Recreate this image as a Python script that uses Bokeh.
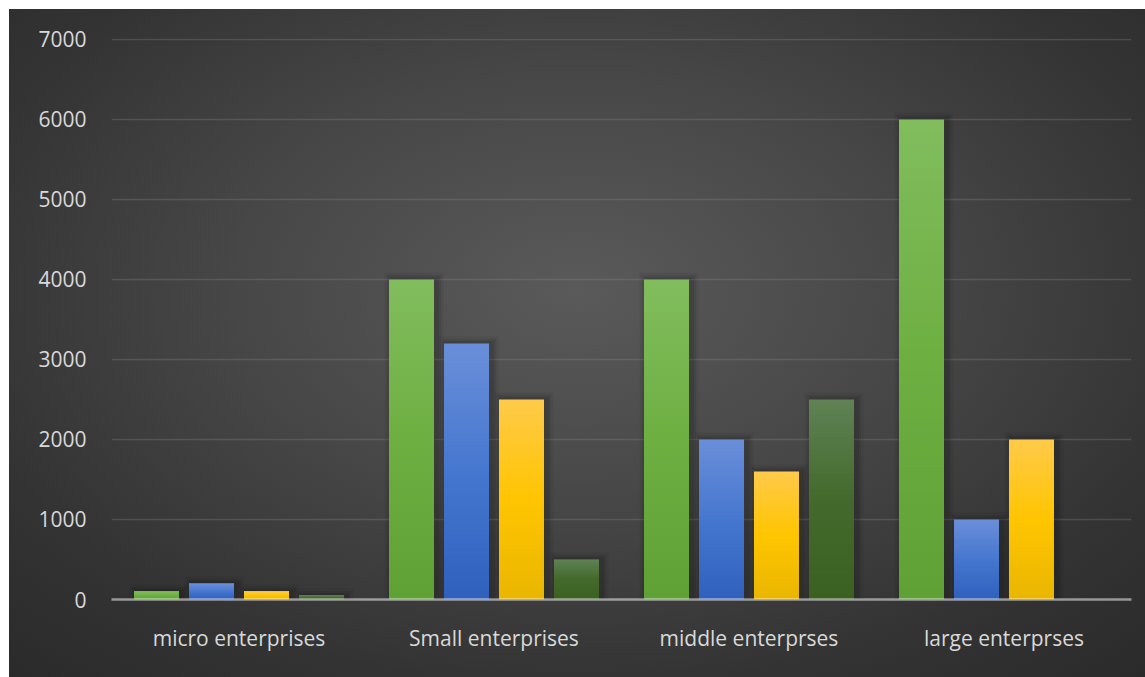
import numpy as np
from bokeh.plotting import figure
from bokeh.models import ColumnDataSource, FactorRange, FixedTicker
from bokeh.transform import dodge
from bokeh.embed import file_html
from bokeh.resources import INLINE

# ---- data ----
categories = ["micro enterprises", "Small enterprises", "middle enterprses", "large enterprses"]
series_a = [100, 4000, 4000, 6000]
series_b = [200, 3200, 2000, 1000]
series_c = [100, 2500, 1600, 2000]
series_d = [50, 500, 2500, 0]
y_ticks = [0, 1000, 2000, 3000, 4000, 5000, 6000, 7000]

# gradient stops (bottom, middle, top) per series
grad_a = ["#5fa135", "#6daf41", "#82bd5e"]
grad_b = ["#2f61bd", "#4677cf", "#6a8fd9"]
grad_c = ["#e9b600", "#ffc500", "#ffca4a"]
grad_d = ["#3b6122", "#436a2c", "#608255"]

series = [series_a, series_b, series_c, series_d]
grads = [grad_a, grad_b, grad_c, grad_d]
offsets = [-0.3235, -0.1078, 0.1078, 0.3235]
bar_w = 0.1765


def hex2rgb(h):
    h = h.lstrip("#")
    return np.array([int(h[i:i + 2], 16) for i in (0, 2, 4)], dtype=float)


def interp(stops, t):
    b, m, tp = [hex2rgb(s) for s in stops]
    if t < 0.5:
        c = b + (m - b) * (t / 0.5)
    else:
        c = m + (tp - m) * ((t - 0.5) / 0.5)
    return "#%02x%02x%02x" % tuple(int(round(v)) for v in c)


p = figure(
    width=1136, height=668,
    x_range=FactorRange(factors=categories, range_padding=0),
    y_range=(0, 7012),
    output_backend="svg", toolbar_location=None,
    min_border_left=102, min_border_right=14, min_border_top=29, min_border_bottom=78,
)
p.margin = (9, 0, 0, 9)
p.styles = {
    "background-image": "radial-gradient(ellipse 75% 80% at 50% 42%, #5a5a5a 0%, #474747 40%, #333333 75%, #2a2a2a 100%)",
}
p.background_fill_color = None
p.border_fill_color = None
p.outline_line_color = None

N = 40
for vals, stops, off in zip(series, grads, offsets):
    # soft shadow
    for k, (dw, a) in enumerate([(14, 0.05), (9, 0.07), (5, 0.09)]):
        sh = ColumnDataSource(dict(cat=categories, top=[v + (dw / 2) * 12.5 if v > 0 else 0 for v in vals]))
        p.vbar(x=dodge("cat", off + 2.5 / 255, range=p.x_range), top="top", bottom=0,
               width=bar_w + dw / 255, source=sh, fill_color="black", fill_alpha=a, line_color=None)
    cats, bots, tops, cols = [], [], [], []
    for c, v in zip(categories, vals):
        if v <= 0:
            continue
        for i in range(N):
            cats.append(c)
            bots.append(v * i / N)
            tops.append(min(v, v * (i + 1) / N + 8))
            cols.append(interp(stops, (i + 0.5) / N))
    src = ColumnDataSource(dict(cat=cats, bottom=bots, top=tops, color=cols))
    p.vbar(x=dodge("cat", off, range=p.x_range), top="top", bottom="bottom", width=bar_w,
           source=src, fill_color="color", line_color=None)

# grid
p.xgrid.grid_line_color = None
p.ygrid.grid_line_color = "#8a8a8a"
p.ygrid.grid_line_alpha = 0.3
p.ygrid.grid_line_width = 1.5
p.yaxis.ticker = FixedTicker(ticks=y_ticks)

font = "Open Sans"
for ax in (p.xaxis, p.yaxis):
    ax.major_tick_line_color = None
    ax.minor_tick_line_color = None
    ax.major_label_text_font = font
    ax.major_label_text_font_size = "21px"
    ax.major_label_text_color = "#d9d9d9"
p.yaxis.axis_line_color = None
p.yaxis.major_label_standoff = 19
p.xaxis.axis_line_color = "white"
p.xaxis.axis_line_alpha = 0.5
p.xaxis.axis_line_width = 2.5
p.xaxis.major_label_standoff = 18
p.xaxis.group_text_font_size = "0px"

open("out.html", "w").write(file_html(p, INLINE))
